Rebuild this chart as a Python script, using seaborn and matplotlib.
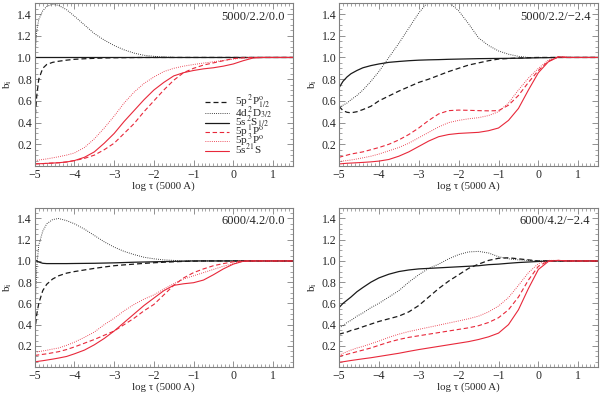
import matplotlib
matplotlib.use('Agg')
import matplotlib.pyplot as plt
from matplotlib.ticker import MultipleLocator, FixedLocator
import seaborn as sns
import pandas as pd

# Optical depth grid, log tau(5000 A)
tau = [-5, -4.95, -4.9, -4.8, -4.7, -4.55, -4.4, -4.2, -4, -3.75, -3.5,
       -3.25, -3, -2.75, -2.5, -2.25, -2, -1.75, -1.5, -1.25, -1, -0.75,
       -0.5, -0.25, 0, 0.25, 0.5, 0.75, 1.5]

# Level names (legend order)
levels = [r'5p$\,^2$P$^{\rm o}_{1/2}$', r'4d$\,^2$D$_{3/2}$',
          r'5s$\,^2$S$_{1/2}$', r'5p$\,^1$P$^{\rm o}$',
          r'5p$\,^3$P$^{\rm o}$', r'5s$^{2\,1}$S']

# Model labels
models = ['5000/2.2/0.0', '5000/2.2/\u22122.4',
          '6000/4.2/0.0', '6000/4.2/\u22122.4']

# ---- 5000/2.2/0.0 ----
m1_5p2P = [0.40, 0.65, 0.80, 0.90, 0.935, 0.955, 0.965, 0.975, 0.983, 0.988,
           0.992, 0.995, 0.997, 0.998, 0.999, 1.0, 1.0, 1.0, 1.0, 1.0, 1.0,
           1.0, 1.0, 1.0, 1.0, 1.0, 1.0, 1.0, 1.0]
m1_4d2D = [1.0, 1.25, 1.35, 1.43, 1.47, 1.49, 1.48, 1.44, 1.38, 1.30, 1.22,
           1.16, 1.11, 1.07, 1.04, 1.02, 1.01, 1.005, 1.0, 1.0, 1.0, 1.0,
           1.0, 1.0, 1.0, 1.0, 1.0, 1.0, 1.0]
m1_5s2S = [1.0] * 29
m1_5p1P = [0.02, 0.02, 0.021, 0.022, 0.024, 0.027, 0.03, 0.037, 0.05, 0.07,
           0.10, 0.15, 0.21, 0.30, 0.39, 0.50, 0.60, 0.70, 0.79, 0.86, 0.90,
           0.93, 0.95, 0.97, 0.99, 0.997, 1.0, 1.0, 1.0]
m1_5p3P = [0.05, 0.052, 0.055, 0.06, 0.065, 0.075, 0.085, 0.10, 0.12, 0.17,
           0.25, 0.35, 0.46, 0.58, 0.68, 0.76, 0.82, 0.87, 0.90, 0.92, 0.935,
           0.948, 0.96, 0.972, 0.985, 0.995, 1.0, 1.0, 1.0]
m1_5s21S = [0.02, 0.02, 0.021, 0.022, 0.024, 0.027, 0.03, 0.037, 0.05, 0.08,
            0.13, 0.21, 0.30, 0.41, 0.51, 0.61, 0.70, 0.77, 0.83, 0.86, 0.88,
            0.895, 0.905, 0.92, 0.94, 0.97, 0.995, 1.0, 1.0]

# ---- 5000/2.2/-2.4 ----
m2_5p2P = [0.55, 0.53, 0.51, 0.495, 0.49, 0.50, 0.52, 0.55, 0.60, 0.645,
           0.69, 0.73, 0.77, 0.80, 0.835, 0.87, 0.90, 0.93, 0.95, 0.97, 0.985,
           0.99, 0.995, 0.998, 1.0, 1.0, 1.0, 1.0, 1.0]
m2_4d2D = [0.54, 0.55, 0.56, 0.58, 0.61, 0.65, 0.70, 0.78, 0.87, 1.0, 1.13,
           1.27, 1.41, 1.52, 1.56, 1.51, 1.43, 1.31, 1.18, 1.11, 1.06, 1.03,
           1.01, 1.0, 1.0, 1.0, 1.0, 1.0, 1.0]
m2_5s2S = [0.72, 0.75, 0.78, 0.82, 0.85, 0.88, 0.905, 0.925, 0.94, 0.955,
           0.963, 0.97, 0.975, 0.978, 0.98, 0.983, 0.985, 0.987, 0.989, 0.99,
           0.991, 0.992, 0.993, 0.995, 0.997, 0.998, 1.0, 1.0, 1.0]
m2_5p1P = [0.08, 0.085, 0.09, 0.10, 0.11, 0.12, 0.13, 0.15, 0.17, 0.20,
           0.24, 0.29, 0.35, 0.42, 0.48, 0.51, 0.515, 0.513, 0.51, 0.508,
           0.51, 0.56, 0.65, 0.77, 0.88, 0.965, 1.005, 1.0, 1.0]
m2_5p3P = [0.04, 0.043, 0.046, 0.05, 0.055, 0.065, 0.075, 0.09, 0.11, 0.14,
           0.17, 0.21, 0.26, 0.31, 0.36, 0.40, 0.42, 0.435, 0.445, 0.465,
           0.50, 0.58, 0.70, 0.81, 0.90, 0.975, 1.005, 1.0, 1.0]
m2_5s21S = [0.02, 0.02, 0.022, 0.025, 0.027, 0.03, 0.033, 0.038, 0.045,
            0.06, 0.09, 0.13, 0.18, 0.23, 0.27, 0.29, 0.30, 0.305, 0.31,
            0.325, 0.35, 0.42, 0.53, 0.70, 0.86, 0.96, 1.005, 1.0, 1.0]

# ---- 6000/4.2/0.0 ----
m3_5p2P = [0.33, 0.50, 0.60, 0.72, 0.78, 0.83, 0.86, 0.885, 0.90, 0.915,
           0.93, 0.943, 0.955, 0.963, 0.97, 0.977, 0.983, 0.988, 0.992,
           0.996, 0.998, 1.0, 1.0, 1.0, 1.0, 1.0, 1.0, 1.0, 1.0]
m3_4d2D = [0.50, 0.95, 1.15, 1.28, 1.35, 1.39, 1.40, 1.38, 1.35, 1.30, 1.24,
           1.18, 1.13, 1.09, 1.06, 1.035, 1.02, 1.01, 1.005, 1.0, 1.0, 1.0,
           1.0, 1.0, 1.0, 1.0, 1.0, 1.0, 1.0]
m3_5s2S = [1.01, 1.0, 0.99, 0.978, 0.975, 0.975, 0.975, 0.975, 0.976, 0.977,
           0.978, 0.98, 0.982, 0.985, 0.988, 0.99, 0.992, 0.994, 0.996, 0.998,
           1.0, 1.0, 1.0, 1.0, 1.0, 1.0, 1.0, 1.0, 1.0]
m3_5p1P = [0.11, 0.112, 0.115, 0.12, 0.125, 0.135, 0.145, 0.165, 0.19, 0.225,
           0.26, 0.30, 0.34, 0.40, 0.46, 0.53, 0.59, 0.68, 0.77, 0.84, 0.89,
           0.925, 0.955, 0.975, 0.992, 1.0, 1.0, 1.0, 1.0]
m3_5p3P = [0.14, 0.143, 0.146, 0.152, 0.158, 0.17, 0.18, 0.205, 0.235, 0.28,
           0.33, 0.40, 0.46, 0.53, 0.59, 0.64, 0.68, 0.735, 0.785, 0.83, 0.86,
           0.89, 0.92, 0.95, 0.975, 0.998, 1.0, 1.0, 1.0]
m3_5s21S = [0.05, 0.052, 0.055, 0.06, 0.066, 0.075, 0.085, 0.10, 0.125, 0.16,
            0.21, 0.27, 0.34, 0.42, 0.50, 0.58, 0.65, 0.72, 0.77, 0.785,
            0.795, 0.82, 0.87, 0.925, 0.97, 0.997, 1.0, 1.0, 1.0]

# ---- 6000/4.2/-2.4 ----
m4_5p2P = [0.31, 0.315, 0.32, 0.33, 0.345, 0.36, 0.38, 0.405, 0.43, 0.455,
           0.48, 0.52, 0.58, 0.66, 0.74, 0.81, 0.87, 0.93, 0.97, 1.005, 1.025,
           1.03, 1.02, 1.01, 1.0, 1.0, 1.0, 1.0, 1.0]
m4_4d2D = [0.37, 0.38, 0.39, 0.42, 0.44, 0.48, 0.51, 0.56, 0.60, 0.66, 0.72,
           0.80, 0.87, 0.93, 0.97, 1.02, 1.06, 1.085, 1.09, 1.075, 1.04, 1.02,
           1.01, 1.005, 1.0, 1.0, 1.0, 1.0, 1.0]
m4_5s2S = [0.56, 0.58, 0.60, 0.63, 0.66, 0.71, 0.75, 0.80, 0.84, 0.875, 0.90,
           0.915, 0.925, 0.93, 0.935, 0.94, 0.945, 0.95, 0.955, 0.965, 0.97,
           0.978, 0.985, 0.99, 0.995, 1.0, 1.0, 1.0, 1.0]
m4_5p1P = [0.10, 0.105, 0.11, 0.12, 0.13, 0.145, 0.16, 0.18, 0.205, 0.235,
           0.26, 0.28, 0.295, 0.31, 0.325, 0.34, 0.355, 0.37, 0.39, 0.42,
           0.465, 0.54, 0.66, 0.82, 0.95, 1.0, 1.005, 1.0, 1.0]
m4_5p3P = [0.11, 0.12, 0.13, 0.145, 0.16, 0.18, 0.195, 0.22, 0.245, 0.28,
           0.31, 0.335, 0.355, 0.375, 0.395, 0.415, 0.435, 0.455, 0.48, 0.52,
           0.575, 0.655, 0.77, 0.89, 0.975, 1.005, 1.005, 1.0, 1.0]
m4_5s21S = [0.045, 0.048, 0.05, 0.056, 0.062, 0.07, 0.078, 0.088, 0.10,
            0.115, 0.13, 0.148, 0.165, 0.18, 0.195, 0.21, 0.225, 0.24, 0.26,
            0.285, 0.32, 0.40, 0.54, 0.74, 0.92, 0.995, 1.005, 1.0, 1.0]

panel_data = [
    [m1_5p2P, m1_4d2D, m1_5s2S, m1_5p1P, m1_5p3P, m1_5s21S],
    [m2_5p2P, m2_4d2D, m2_5s2S, m2_5p1P, m2_5p3P, m2_5s21S],
    [m3_5p2P, m3_4d2D, m3_5s2S, m3_5p1P, m3_5p3P, m3_5s21S],
    [m4_5p2P, m4_4d2D, m4_5s2S, m4_5p1P, m4_5p3P, m4_5s21S],
]

# Styles
black_c = '#1a1a1a'
red_c   = '#e8283a'
frame_c = '#808080'
dashed  = (0, (4, 2.4))
dotted  = (0, (0.8, 1.4))
line_colors = [black_c, black_c, black_c, red_c, red_c, red_c]
line_styles = [dashed, dotted, '-', dashed, dotted, '-']
line_widths = [0.9, 0.7, 0.9, 0.8, 0.7, 0.8]

sns.set_style('ticks')
plt.rcParams['font.family'] = ['Liberation Serif', 'DejaVu Serif']
plt.rcParams['mathtext.fontset'] = 'stix'
plt.rcParams['font.size'] = 8

fig = plt.figure(figsize=(6.0, 3.99), dpi=100)
positions = [[0.058, 0.584, 0.430, 0.408],
             [0.565, 0.584, 0.432, 0.408],
             [0.058, 0.080, 0.430, 0.399],
             [0.565, 0.080, 0.432, 0.399]]

for k in range(4):
    ax = fig.add_axes(positions[k])
    df = pd.DataFrame({'tau': tau})
    for j in range(6):
        df['b'] = panel_data[k][j]
        sns.lineplot(data=df, x='tau', y='b', ax=ax, color=line_colors[j],
                     linestyle=line_styles[j], lw=line_widths[j],
                     label=levels[j] if k == 0 else None)

    ax.set_xlim(-5, 1.5)
    ax.set_ylim(0, 1.5)
    ax.xaxis.set_major_locator(MultipleLocator(1))
    ax.xaxis.set_minor_locator(MultipleLocator(0.1))
    ax.yaxis.set_major_locator(FixedLocator([0.2, 0.4, 0.6, 0.8, 1.0, 1.2, 1.4]))
    ax.yaxis.set_minor_locator(MultipleLocator(0.05))
    ax.tick_params(which='both', direction='in', top=True, right=True,
                   color=frame_c, labelsize=8.5, pad=2)
    ax.tick_params(which='major', length=4, width=0.6)
    ax.tick_params(which='minor', length=2, width=0.5)
    for sp in ax.spines.values():
        sp.set_color(frame_c)
        sp.set_linewidth(0.8)

    ax.set_xlabel('log \u03c4 (5000 A)', fontsize=7.8, labelpad=0.5)
    ax.set_ylabel(r'b$_{\rm i}$', fontsize=8, labelpad=2)
    ax.text(0.97, 0.915, models[k], transform=ax.transAxes,
            ha='right', va='center', fontsize=9)

    if k == 0:
        ax.legend(loc='upper left', bbox_to_anchor=(0.64, 0.48),
                  frameon=False, fontsize=8, handlelength=2.1,
                  handleheight=0.3, handletextpad=0.6, labelspacing=-0.64,
                  borderpad=0.0)
    else:
        lg = ax.get_legend()
        if lg is not None:
            lg.remove()

fig.savefig('out.png', dpi=100)
